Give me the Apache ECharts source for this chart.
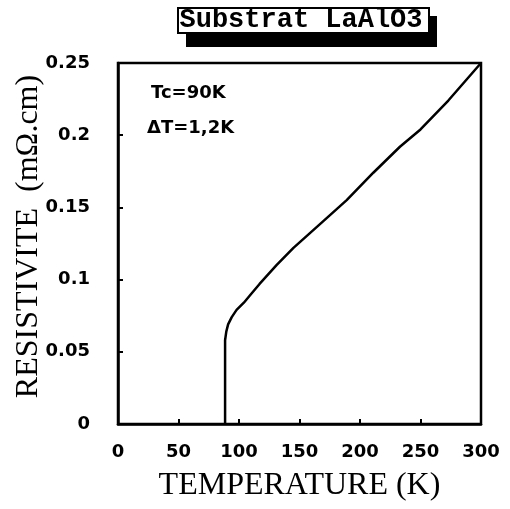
<!DOCTYPE html>
<html>
<head>
<meta charset="utf-8">
<style>
  html, body { margin: 0; padding: 0; background: #fff; }
  #chart { width: 510px; height: 509px; }
</style>
<script src="https://cdn.jsdelivr.net/npm/echarts@6/dist/echarts.min.js"></script>
</head>
<body>
<div id="chart"></div>
<script>
// resistivity vs temperature
const temperature = [88.5, 88.5, 89.5, 91, 94, 98, 104, 110, 117, 131, 145, 169, 189, 211, 233, 250, 273, 300]
const resistivity = [0, 0.058, 0.064, 0.069, 0.074, 0.079, 0.084, 0.090, 0.097, 0.110, 0.122, 0.140, 0.155, 0.174, 0.192, 0.204, 0.224, 0.25]

const xTicks = { min: 0, max: 300, step: 50 }
const yTicks = { min: 0, max: 0.25, step: 0.05 }

const chart = echarts.init(document.getElementById('chart'))

const tickLabel = {
  color: '#000',
  fontFamily: 'DejaVu Sans',
  fontWeight: 'bold',
  fontSize: 18,
}

chart.setOption({
  animation: false,
  grid: {
    left: 118,
    right: 29,
    top: 63,
    bottom: 85,
    outerBoundsMode: 'none',
    show: true,
    borderColor: '#000',
    borderWidth: 2.5,
  },
  graphic: [
    // title box with its drop shadow
    { type: 'rect', shape: { x: 186, y: 16, width: 251, height: 31 }, style: { fill: '#000' } },
    { type: 'rect', shape: { x: 178, y: 8, width: 251, height: 25 }, style: { fill: '#fff', stroke: '#000', lineWidth: 2 } },
    {
      type: 'text',
      x: 301,
      y: 20,
      style: {
        text: 'Substrat LaAlO3',
        fill: '#000',
        font: 'bold 27px "Liberation Mono"',
        align: 'center',
        verticalAlign: 'middle',
      },
    },
    {
      type: 'text',
      x: 151,
      y: 93,
      style: { text: 'Tc=90K', fill: '#000', font: 'bold 18px "DejaVu Sans"', verticalAlign: 'middle' },
    },
    {
      type: 'text',
      x: 147,
      y: 128,
      style: { text: 'ΔT=1,2K', fill: '#000', font: 'bold 18px "DejaVu Sans"', verticalAlign: 'middle' },
    },
  ],
  xAxis: {
    type: 'value',
    min: xTicks.min,
    max: xTicks.max,
    interval: xTicks.step,
    name: 'TEMPERATURE (K)',
    nameLocation: 'middle',
    nameGap: 46,
    nameMoveOverlap: false,
    nameTextStyle: { color: '#000', fontFamily: 'Liberation Serif', fontSize: 32 },
    axisLine: { lineStyle: { color: '#000', width: 2.5 } },
    axisTick: { inside: true, length: 5, lineStyle: { color: '#000', width: 2 } },
    axisLabel: { ...tickLabel, margin: 19 },
    splitLine: { show: false },
  },
  yAxis: {
    type: 'value',
    min: yTicks.min,
    max: yTicks.max,
    interval: yTicks.step,
    name: 'RESISTIVITE  (mΩ.cm)',
    nameLocation: 'middle',
    nameGap: 73,
    nameMoveOverlap: false,
    nameTextStyle: { color: '#000', fontFamily: 'Liberation Serif', fontSize: 32, padding: [0, 0, 0, 14] },
    axisLine: { lineStyle: { color: '#000', width: 2.5 } },
    axisTick: { inside: true, length: 5, lineStyle: { color: '#000', width: 2 } },
    axisLabel: { ...tickLabel, margin: 28 },
    splitLine: { show: false },
  },
  series: [
    {
      type: 'line',
      data: temperature.map((t, i) => [t, resistivity[i]]),
      symbol: 'none',
      lineStyle: { color: '#000', width: 2.5 },
    },
  ],
})
</script>
</body>
</html>
